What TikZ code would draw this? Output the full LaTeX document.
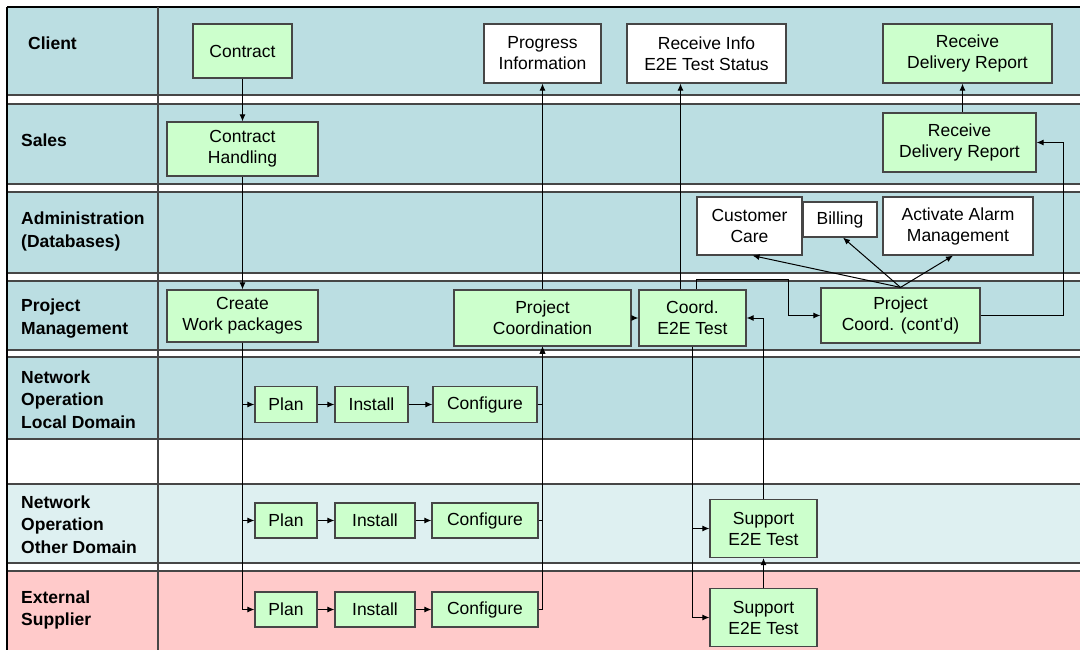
\documentclass[tikz,border=0pt]{standalone}
\usepackage{fontspec}
\setmainfont{Liberation Sans}
\usetikzlibrary{arrows.meta}
\definecolor{laneblue}{RGB}{187,222,226}
\definecolor{lanepale}{RGB}{222,240,241}
\definecolor{lanepink}{RGB}{255,202,202}
\definecolor{boxgreen}{RGB}{204,255,204}
\definecolor{rule}{RGB}{70,70,70}
\tikzset{
  box/.style={draw=rule, line width=1.2pt, fill=boxgreen, align=center, inner sep=0pt,
    font=\fontsize{17.5}{21}\selectfont},
  wbox/.style={box, fill=white},
  lanelabel/.style={anchor=west, align=left, inner sep=0pt,
    font=\fontsize{17.5}{22.5}\selectfont\bfseries},
  arr/.style={-{Latex[length=7pt,width=6pt]}, line width=1pt},
}
\begin{document}
\begin{tikzpicture}[x=1pt,y=-1pt]
\useasboundingbox (0,0) rectangle (1080,650);
% swim lanes
\foreach \top/\bot/\col in {7/95/laneblue, 104/184/laneblue, 192/273/laneblue,
    281/350/laneblue, 357/439/laneblue, 439/484/white, 484/563/lanepale}{
  \fill[\col] (7,\top) rectangle (1080,\bot);
  \draw[rule, line width=1.2pt] (7,\top) -- (1080,\top) (7,\bot) -- (1080,\bot);
}
\fill[lanepink] (7,571) rectangle (1080,650);
\draw[rule, line width=1.2pt] (7,571) -- (1080,571);
\draw[line width=2pt] (7,7) -- (1080,7);
\draw[line width=2pt] (7,7) -- (7,650);
\draw[rule, line width=1.5pt] (158,7) -- (158,650);
% lane names
\node[lanelabel] (lclient) at (28,43) {Client};
\node[lanelabel] (lsales) at (21,140) {Sales};
\node[lanelabel] (ladmin) at (21,231.5) {Administration\\(Databases)};
\node[lanelabel] (lpm) at (21,318.5) {Project\\Management};
\node[lanelabel] (llocal) at (21,399.5) {Network\\Operation\\Local Domain};
\node[lanelabel] (lother) at (21,524.5) {Network\\Operation\\Other Domain};
\node[lanelabel] (lext) at (21,610) {External\\Supplier};
% client
\node[box, minimum width=99, minimum height=54] (contract) at (242.5,51) {Contract};
\node[wbox, minimum width=117, minimum height=59] (progress) at (542.5,53.5) {Progress\\Information};
\node[wbox, minimum width=159, minimum height=59] (recinfo) at (706.5,53.5) {Receive Info\\E2E Test Status};
\node[box, minimum width=169, minimum height=59] (recdel1) at (967.5,53.5) {Receive\\Delivery Report};
% sales
\node[box, minimum width=151, minimum height=54] (handling) at (242.5,149) {Contract\\Handling};
\node[box, minimum width=153, minimum height=59] (recdel2) at (959.5,142.5) {Receive\\Delivery Report};
% administration
\node[wbox, minimum width=105, minimum height=58] (care) at (749.5,226) {Customer\\Care};
\node[wbox, minimum width=74, minimum height=35] (billing) at (840,219.5) {Billing};
\node[wbox, minimum width=150, minimum height=58] (alarm) at (958,226) {Activate Alarm\\Management};
% project management
\node[box, minimum width=151, minimum height=52] (workpk) at (242.5,316) {Create\\Work packages};
\node[box, minimum width=177, minimum height=56] (projcoord) at (542.5,318) {Project\\Coordination};
\node[box, minimum width=107, minimum height=56] (coorde2e) at (692.5,318) {Coord.\\E2E Test};
\node[box, minimum width=159, minimum height=55] (contd) at (900.5,315.5) {Project\\Coord. (cont'd)};
% network operation, local domain
\node[box, minimum width=62, minimum height=36] (plan1) at (286,404.5) {Plan};
\node[box, minimum width=73, minimum height=36] (inst1) at (371.5,404.5) {Install};
\node[box, minimum width=104, minimum height=36] (conf1) at (485,404.5) {Configure};
% network operation, other domain
\node[box, minimum width=62, minimum height=35] (plan2) at (286,520.5) {Plan};
\node[box, minimum width=80, minimum height=35] (inst2) at (375,520.5) {Install};
\node[box, minimum width=106, minimum height=35] (conf2) at (485,520.5) {Configure};
\node[box, minimum width=107, minimum height=58] (sup1) at (763.5,528.5) {Support\\E2E Test};
% external supplier
\node[box, minimum width=62, minimum height=35] (plan3) at (286,609.5) {Plan};
\node[box, minimum width=80, minimum height=35] (inst3) at (375,609.5) {Install};
\node[box, minimum width=106, minimum height=35] (conf3) at (485,609.5) {Configure};
\node[box, minimum width=107, minimum height=58] (sup2) at (763.5,617.5) {Support\\E2E Test};
\coordinate (bend) at (788.5,279.5);
% flows
\draw[arr] (contract) -- (handling);
\draw[arr] (handling) -- (workpk);
\foreach \i in {1,2,3}{
  \draw[arr] (workpk.south) |- (plan\i.west);
  \draw[arr] (plan\i) -- (inst\i);
  \draw[arr] (inst\i) -- (conf\i);
  \draw[arr] (conf\i.east) -| (projcoord.south);
}
\draw[arr] (projcoord.north) -- (progress.south);
\draw[arr] (projcoord) -- (coorde2e);
\draw[arr] ([xshift=-12pt]coorde2e.north) -- ([xshift=-12pt]coorde2e.north |- recinfo.south);
\draw[arr] (coorde2e.south) |- (sup1.west);
\draw[arr] (coorde2e.south) |- (sup2.west);
\draw[arr] (sup2) -- (sup1);
\draw[arr] (sup1.north) |- (coorde2e.east);
\draw[arr] ([xshift=4pt]coorde2e.north) |- (bend) |- (contd.west);
\draw[arr] (contd.north) -- ([xshift=3pt]care.south);
\draw[arr] (contd.north) -- ([xshift=3pt]billing.south);
\draw[arr] (contd.north) -- ([xshift=-5pt]alarm.south);
\draw[arr] (contd.east) -| ([xshift=27pt]recdel2.east) -- (recdel2.east);
\draw[arr] ([xshift=3pt]recdel2.north) -- ([xshift=3pt]recdel2.north |- recdel1.south);
\end{tikzpicture}
\end{document}
